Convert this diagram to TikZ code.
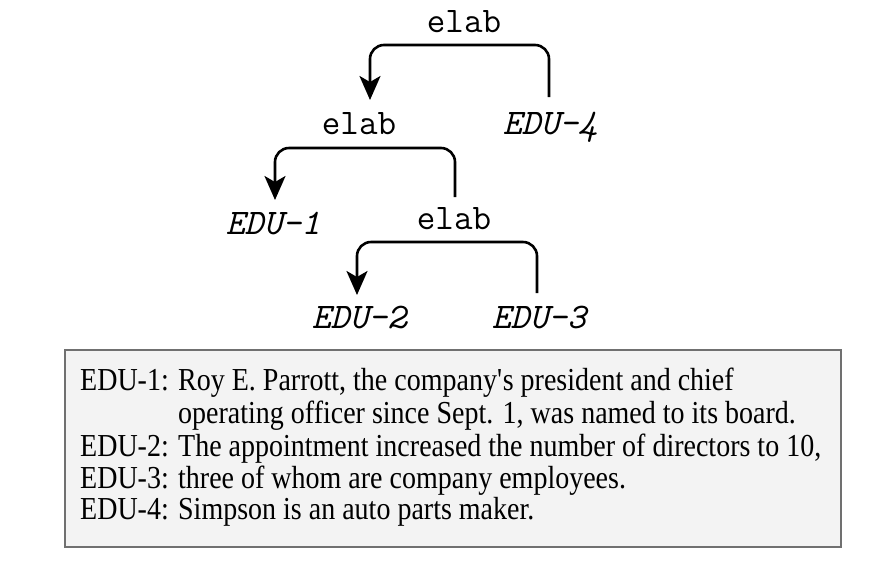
\documentclass[tikz,border=0pt]{standalone}
\usepackage{fontspec}
\setmainfont{Liberation Serif}[FakeStretch=0.875]
\usetikzlibrary{arrows.meta}
\begin{document}
\begin{tikzpicture}[x=1pt,y=-1pt,
  rel/.style={font=\ttfamily\fontsize{36}{40}\selectfont, inner sep=0pt, anchor=base},
  edu/.style={font=\ttfamily\itshape\fontsize{36}{40}\selectfont, inner sep=0pt, anchor=base},
  arr/.style={line width=2.6pt, rounded corners=14pt, -{Stealth[length=24pt,width=21pt,inset=6pt]}},
  txt/.style={font=\fontsize{32}{36}\selectfont, inner sep=0pt, anchor=base west}]
\useasboundingbox (0,0) rectangle (876,566);
% relation and EDU labels
\node[rel] (r1) at (464,32) {elab};
\node[edu] (e4) at (550,134) {EDU-4};
\node[rel] (r2) at (359,134) {elab};
\node[edu] (e1) at (273,234) {EDU-1};
\node[rel] (r3) at (454,229) {elab};
\node[edu] (e2) at (359,328) {EDU-2};
\node[edu] (e3) at (539,328) {EDU-3};
% corner coordinates
\coordinate (s4) at (549,97);
\coordinate (t2) at (370,100);
\coordinate (s3) at (455,197);
\coordinate (t1) at (275,200);
\coordinate (s5) at (537,293);
\coordinate (t5) at (357,295);
\draw[arr] (s4) -- (s4 |- 0,45) -- (t2 |- 0,45) -- (t2);
\draw[arr] (s3) -- (s3 |- 0,148) -- (t1 |- 0,148) -- (t1);
\draw[arr] (s5) -- (s5 |- 0,242) -- (t5 |- 0,242) -- (t5);
% legend box
\node[draw={rgb,255:red,112;green,112;blue,112}, line width=2pt, fill={rgb,255:red,243;green,243;blue,243},
  minimum width=776pt, minimum height=197pt, inner sep=0pt, anchor=north west] (box) at (64,349) {};
\node[txt] (l1) at (80,390) {EDU-1: Roy E. Parrott, the company\textquotesingle s president and chief};
\node[txt] (l2) at (178,423) {operating officer since Sept. 1, was named to its board.};
\node[txt] (l3) at (80,456) {EDU-2: The appointment increased the number of directors to 10,};
\node[txt] (l4) at (80,488) {EDU-3: three of whom are company employees.};
\node[txt] (l5) at (80,519) {EDU-4: Simpson is an auto parts maker.};
\end{tikzpicture}
\end{document}
